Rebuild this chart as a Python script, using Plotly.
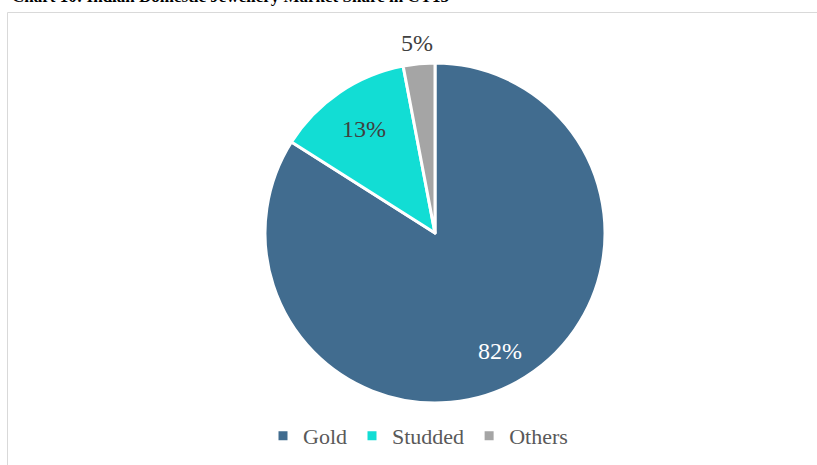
import math
import plotly.graph_objects as go

categories = ["Gold", "Studded", "Others"]
values = [84, 13, 3]
label_text = ["82%", "13%", "5%"]
label_colors = ["white", "#404040", "#404040"]
label_radius = [0.79, 0.74, 1.12]  # label distance from centre, as a fraction of the radius
colors = ["#416C8F", "#12DDD4", "#A5A5A5"]
title_text = "Chart 10: Indian Domestic Jewellery Market Share in CY15"

W, H = 817, 465
cx, cy, r = 435, 233, 170
FONT = "Liberation Serif, Times New Roman, serif"

fig = go.Figure(go.Pie(
    labels=categories,
    values=values,
    textinfo="none",
    sort=False,
    direction="clockwise",
    rotation=0,
    marker=dict(colors=colors, line=dict(color="white", width=3)),
    hoverinfo="label+percent",
    domain=dict(x=[(cx - r) / W, (cx + r) / W], y=[1 - (cy + r) / H, 1 - (cy - r) / H]),
))

# data labels, placed along each slice's mid-angle
annotations = []
total = sum(values)
cum = 0
for v, t, c, f in zip(values, label_text, label_colors, label_radius):
    theta = 2 * math.pi * (cum + v / 2) / total
    cum += v
    px = cx + f * r * math.sin(theta)
    py = cy - f * r * math.cos(theta)
    annotations.append(dict(text=t, xref="paper", yref="paper", x=px / W, y=1 - py / H,
                            xanchor="center", yanchor="middle", showarrow=False,
                            font=dict(family=FONT, size=24, color=c)))

annotations.append(dict(text="<b>" + title_text + "</b>", xref="paper", yref="paper",
                        x=10 / W, xanchor="left", y=1 + 4 / H, yanchor="middle",
                        showarrow=False, font=dict(family=FONT, size=17, color="black")))

fig.update_layout(
    width=W, height=H,
    margin=dict(l=0, r=0, t=0, b=0),
    paper_bgcolor="white",
    showlegend=True,
    legend=dict(
        orientation="h", x=418 / W, xanchor="center", y=1 - 436 / H, yanchor="middle",
        font=dict(family=FONT, size=22, color="#595959"),
        itemclick=False, itemdoubleclick=False,
    ),
    shapes=[dict(type="rect", xref="paper", yref="paper",
                 x0=7.5 / W, x1=1.05, y0=-0.05, y1=1 - 12.5 / H,
                 line=dict(color="#D9D9D9", width=1), fillcolor="rgba(0,0,0,0)")],
    annotations=annotations,
)

fig.write_html("out.html")
